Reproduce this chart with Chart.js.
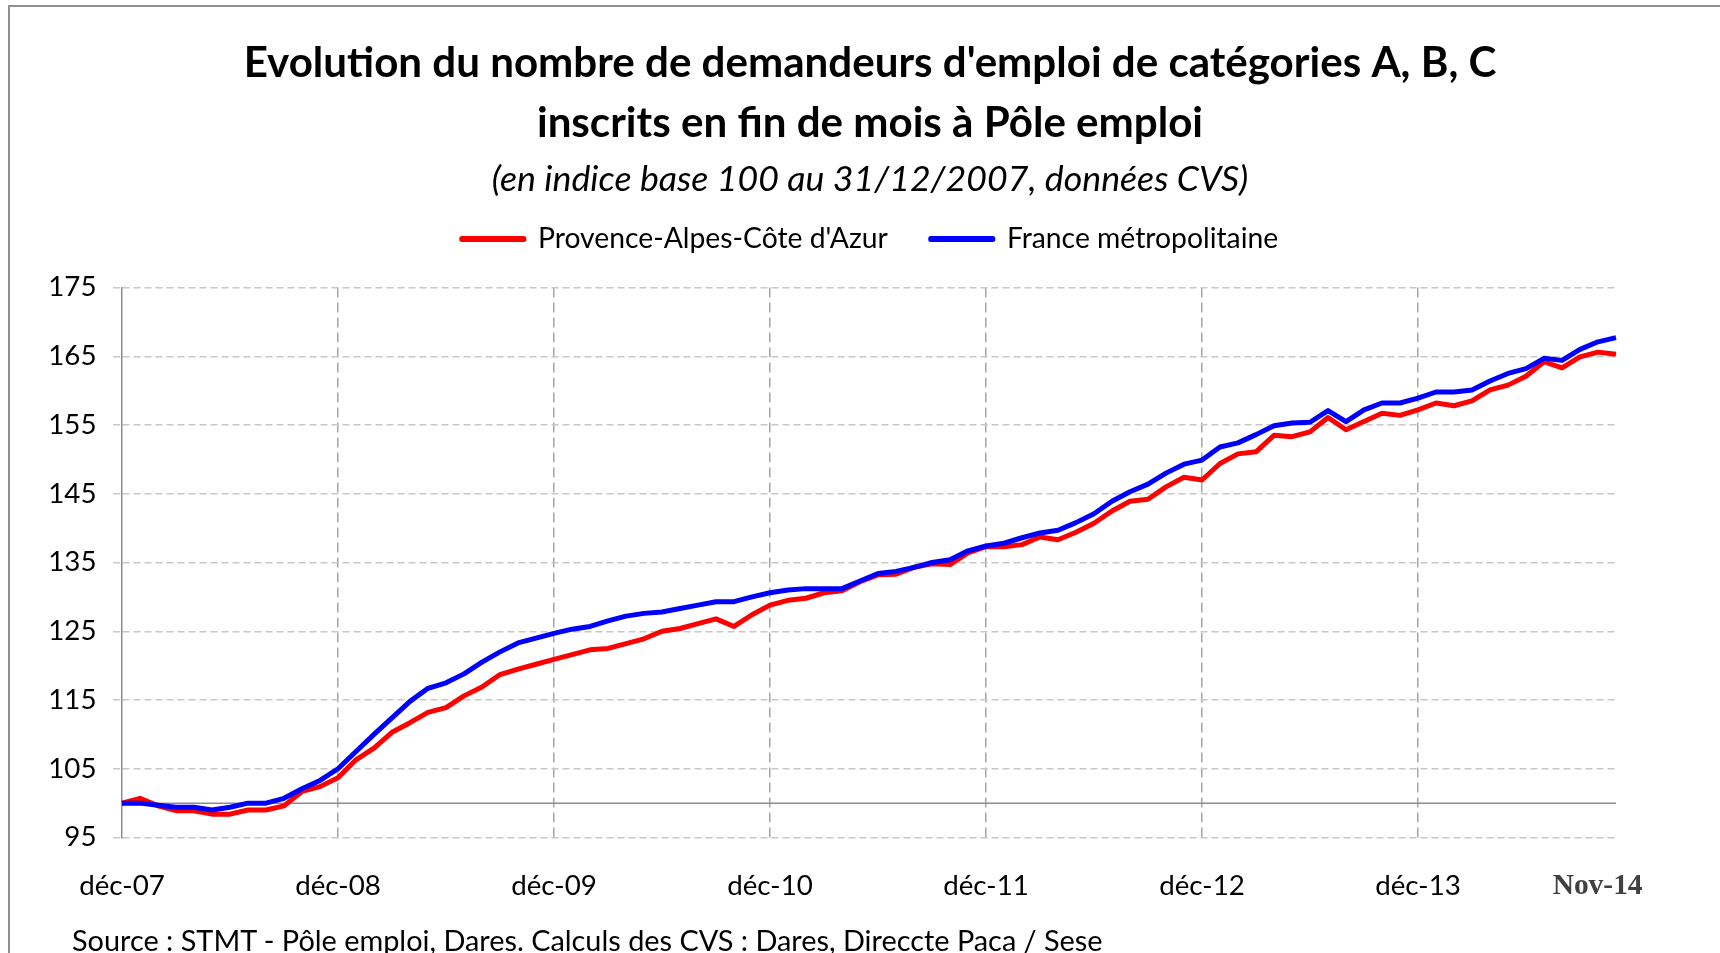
<!DOCTYPE html>
<html lang="fr">
<head>
<meta charset="utf-8">
<title>Demandeurs d'emploi A, B, C - Provence-Alpes-Côte d'Azur</title>
<script src="https://cdn.jsdelivr.net/npm/chart.js@4.4.1/dist/chart.umd.min.js"></script>
<style>
  html, body { margin: 0; padding: 0; background: #fff; overflow: hidden; }
  #wrap { position: relative; width: 1720px; height: 953px; overflow: hidden; }
  #frame { position: absolute; left: 8px; top: 5px; width: 1730px; height: 960px;
           border-top: 2px solid #8e8e8e; border-left: 2px solid #8e8e8e; }
  #chart { position: absolute; left: 0; top: 0; }
  #source { position: absolute; left: 72px; top: 924px; white-space: nowrap;
            font-family: Lato, sans-serif; color: #000; line-height: 32px; }
</style>
</head>
<body>
<div id="wrap">
  <div id="frame"></div>
  <canvas id="chart" width="1720" height="953"></canvas>
  <div id="source">Source : STMT - Pôle emploi, Dares. Calculs des CVS : Dares, Direccte Paca / Sese</div>
</div>
<script>
// indice base 100 au 31/12/2007, données CVS, déc-07 -> nov-14
const mois = ['janv', 'févr', 'mars', 'avr', 'mai', 'juin', 'juil', 'août', 'sept', 'oct', 'nov', 'déc'];

const paca = [
  100, 100.7, 99.6, 98.9, 98.9, 98.4, 98.4, 99.0, 99.0, 99.6, 101.7, 102.4,
  103.7, 106.3, 108.0, 110.3, 111.7, 113.2, 113.9, 115.6, 116.9, 118.7, 119.5, 120.2,
  120.9, 121.6, 122.3, 122.5, 123.2, 123.9, 125.0, 125.4, 126.1, 126.8, 125.7, 127.4,
  128.8, 129.5, 129.8, 130.6, 130.9, 132.2, 133.2, 133.3, 134.3, 134.8, 134.7, 136.4,
  137.3, 137.3, 137.6, 138.7, 138.3, 139.4, 140.7, 142.5, 143.9, 144.2, 146.0, 147.4,
  147.0, 149.4, 150.8, 151.1, 153.5, 153.3, 154.0, 156.1, 154.3, 155.5, 156.7, 156.4,
  157.2, 158.2, 157.8, 158.5, 160.1, 160.8, 162.1, 164.2, 163.3, 164.9, 165.6, 165.3
];

const france = [
  100, 100, 99.7, 99.4, 99.4, 99.0, 99.4, 100, 100, 100.7, 102.1, 103.3,
  105.0, 107.5, 110.0, 112.4, 114.8, 116.7, 117.5, 118.8, 120.5, 122.0, 123.3, 124.0,
  124.7, 125.3, 125.7, 126.5, 127.2, 127.6, 127.8, 128.3, 128.8, 129.3, 129.3, 130.0,
  130.6, 131.0, 131.2, 131.2, 131.2, 132.3, 133.4, 133.7, 134.3, 135.0, 135.4, 136.7,
  137.4, 137.8, 138.6, 139.3, 139.7, 140.8, 142.1, 143.9, 145.3, 146.4, 148.0, 149.3,
  149.9, 151.8, 152.4, 153.6, 154.9, 155.3, 155.4, 157.1, 155.5, 157.2, 158.2, 158.2,
  158.9, 159.8, 159.8, 160.1, 161.4, 162.5, 163.2, 164.7, 164.4, 166.0, 167.1, 167.7
];

const yTicks = [95, 105, 115, 125, 135, 145, 155, 165, 175];
const xTickIndex = [0, 12, 24, 36, 48, 60, 72, 83];
const xTickLabels = ['déc-07', 'déc-08', 'déc-09', 'déc-10', 'déc-11', 'déc-12', 'déc-13', 'Nov-14'];
const baseValue = 100;

const titleLines = [
  "Evolution du nombre de demandeurs d'emploi de catégories A, B, C",
  'inscrits en fin de mois à Pôle emploi'
];
const subtitleText = '(en indice base 100 au 31/12/2007, données CVS)';

// one label per month, starting déc-07
const labels = paca.map((_, i) => {
  const m = (11 + i) % 12;
  const y = 7 + Math.floor((11 + i) / 12);
  return mois[m] + '-' + String(y).padStart(2, '0');
});

// font sizes fitted to the widths measured on the reference
const mctx = document.createElement('canvas').getContext('2d');
function fitSize(text, font, target) {
  mctx.font = font.replace('{s}', '100px');
  return 100 * target / mctx.measureText(text).width;
}
const titleSize = fitSize(titleLines[0], 'bold {s} Lato', 1253);
const subSize = fitSize(subtitleText, 'italic {s} Lato', 757);
const legendSize = fitSize("Provence-Alpes-Côte d'Azur", '{s} Lato', 350);
const tickSize = fitSize('déc-07', '{s} Lato', 85.6);
const lastSize = fitSize('Nov-14', 'bold {s} "Liberation Serif"', 90);
const sourceEl = document.getElementById('source');
sourceEl.style.fontSize = fitSize(sourceEl.textContent, '{s} Lato', 1032) + 'px';

// the last label sits a little left of its tick in the reference
mctx.font = 'bold ' + lastSize + 'px "Liberation Serif"';
const padSpaces = ' '.repeat(Math.round(38 / mctx.measureText(' ').width));

const legendPad = 43;
const subPadBottom = (239 - legendPad - legendSize / 2) - 180;
const spacerHeight = 287.5 - (249 + legendSize / 2);
const lastIdx = paca.length - 1;

const baseLine = {
  id: 'baseLine',
  beforeDatasetsDraw(chart) {
    const { ctx, chartArea, scales } = chart;
    const y = scales.y.getPixelForValue(baseValue);
    ctx.save();
    ctx.strokeStyle = '#8c8c8c';
    ctx.lineWidth = 1.5;
    ctx.beginPath();
    ctx.moveTo(chartArea.left, y);
    ctx.lineTo(chartArea.right, y);
    ctx.stroke();
    ctx.restore();
  }
};

new Chart(document.getElementById('chart'), {
  type: 'line',
  data: {
    labels,
    datasets: [
      {
        label: "Provence-Alpes-Côte d'Azur",
        data: paca,
        borderColor: '#ff0000',
        backgroundColor: '#ff0000',
        borderWidth: 5,
        pointRadius: 0,
        borderJoinStyle: 'round',
        xAxisID: 'x',
        yAxisID: 'y',
        order: 1
      },
      {
        label: 'France métropolitaine',
        data: france,
        borderColor: '#0000ff',
        backgroundColor: '#0000ff',
        borderWidth: 5,
        pointRadius: 0,
        borderJoinStyle: 'round',
        xAxisID: 'x',
        yAxisID: 'y',
        order: 0
      }
    ]
  },
  options: {
    responsive: false,
    animation: false,
    events: [],
    layout: { padding: { left: 20, right: 0, top: 0, bottom: 0 } },
    plugins: {
      title: {
        display: true,
        text: titleLines,
        color: '#000',
        font: { family: 'Lato', weight: 'bold', size: titleSize, lineHeight: 60 / titleSize },
        padding: { top: 33, bottom: 0 }
      },
      subtitle: {
        display: true,
        text: subtitleText,
        color: '#000',
        font: { family: 'Lato', style: 'italic', size: subSize, lineHeight: 2 / subSize },
        padding: { top: 25, bottom: subPadBottom }
      },
      legend: {
        display: true,
        position: 'top',
        labels: {
          boxWidth: 62,
          boxHeight: 1,
          padding: legendPad,
          color: '#000',
          font: { family: 'Lato', size: legendSize },
          sort: (a, b) => a.datasetIndex - b.datasetIndex
        }
      },
      tooltip: { enabled: false }
    },
    scales: {
      x: {
        type: 'category',
        afterFit: s => { s.height = 953 - 837.5; s.paddingRight = 104; },
        ticks: {
          autoSkip: false,
          maxRotation: 0,
          minRotation: 0,
          padding: 31.5,
          callback: (v, i) => {
            const k = xTickIndex.indexOf(i);
            if (k < 0) return '';
            return i === lastIdx ? xTickLabels[k] + padSpaces : xTickLabels[k];
          },
          font: c => c.index === lastIdx
            ? { family: 'Liberation Serif', weight: 'bold', size: lastSize }
            : { family: 'Lato', size: tickSize },
          color: c => c.index === lastIdx ? '#404040' : '#000'
        },
        grid: {
          drawTicks: false,
          lineWidth: 1.5,
          color: c => (c.index > 0 && c.index < lastIdx && c.index % 12 === 0) ? '#a6a6a6' : 'rgba(0,0,0,0)'
        },
        border: { display: false, dash: [10, 5] }
      },
      spacer: {
        type: 'linear',
        axis: 'x',
        position: 'top',
        display: true,
        ticks: { display: false },
        grid: { display: false },
        border: { display: false },
        afterFit: s => { s.height = spacerHeight; }
      },
      y: {
        min: 95,
        max: 175,
        afterBuildTicks: s => { s.ticks = yTicks.map(v => ({ value: v })); },
        afterFit: s => { s.width = 102; },
        ticks: {
          padding: 16.5,
          color: '#000',
          font: { family: 'Lato', size: tickSize }
        },
        grid: {
          color: '#c8c8c8',
          lineWidth: 1.5,
          tickLength: 9,
          tickColor: '#c8c8c8',
          tickWidth: 1.5,
          tickBorderDash: [7, 4]
        },
        border: { display: true, color: '#8c8c8c', width: 1.5, dash: [7, 4] }
      }
    }
  },
  plugins: [baseLine]
});
</script>
</body>
</html>
